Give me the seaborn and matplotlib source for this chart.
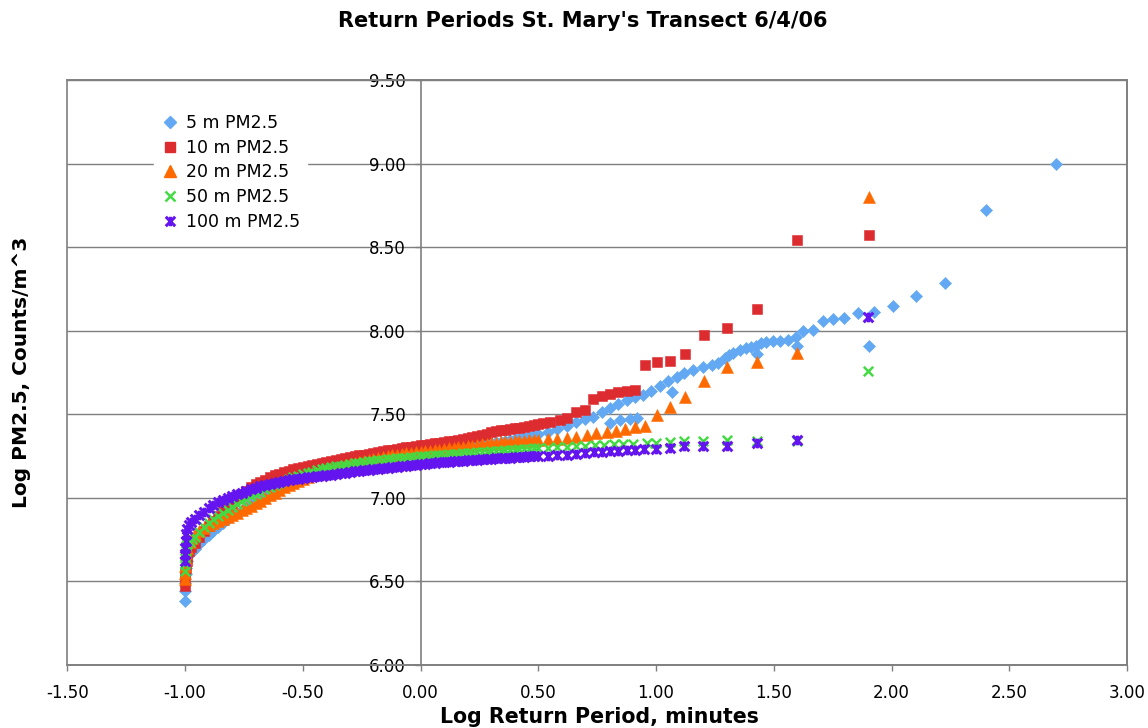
import matplotlib
matplotlib.use("Agg")
import matplotlib.pyplot as plt
from matplotlib.path import Path
from matplotlib.lines import Line2D
from matplotlib.patches import Rectangle
import seaborn as sns
import pandas as pd

sns.set_style("white")
plt.rcParams["font.family"] = ["DejaVu Sans"]
plt.rcParams["text.color"] = "black"
plt.rcParams["axes.labelcolor"] = "black"
plt.rcParams["xtick.color"] = "black"
plt.rcParams["ytick.color"] = "black"

# ---------------- data ----------------
TITLE = "Return Periods St. Mary's Transect 6/4/06"
XLABEL = "Log Return Period, minutes"
YLABEL = "Log PM2.5, Counts/m^3"
SERIES = ["5 m PM2.5", "10 m PM2.5", "20 m PM2.5", "50 m PM2.5", "100 m PM2.5"]
X_TICKS = [-1.5, -1.0, -0.5, 0.0, 0.5, 1.0, 1.5, 2.0, 2.5, 3.0]
Y_TICKS = [6.0, 6.5, 7.0, 7.5, 8.0, 8.5, 9.0, 9.5]

# dense part of every curve (log return period)
X_DENSE = [-0.96, -0.94, -0.92, -0.90, -0.88, -0.86, -0.84, -0.82, -0.80, -0.78,
           -0.76, -0.74, -0.72, -0.70, -0.68, -0.66, -0.64, -0.62, -0.60, -0.58,
           -0.56, -0.54, -0.52, -0.50, -0.48, -0.46, -0.44, -0.42, -0.40, -0.38,
           -0.36, -0.34, -0.32, -0.30, -0.28, -0.26, -0.24, -0.22, -0.20, -0.18,
           -0.16, -0.14, -0.12, -0.10, -0.08, -0.06, -0.04, -0.02, 0.00, 0.02,
           0.04, 0.06, 0.08, 0.10, 0.12, 0.14, 0.16, 0.18, 0.20, 0.22,
           0.24, 0.26, 0.28, 0.30, 0.32, 0.34, 0.36, 0.38, 0.40, 0.42,
           0.44, 0.46, 0.48, 0.50]

# ---- 5 m
X5_LOW = [-1.0, -1.0, -0.999, -0.998, -0.996, -0.993, -0.988, -0.98, -0.97]
Y5_LOW = [6.38, 6.44, 6.49, 6.54, 6.58, 6.62, 6.65, 6.67, 6.68]
Y5_DENSE = [6.690, 6.720, 6.750, 6.775, 6.800, 6.825, 6.848, 6.870, 6.890, 6.910,
            6.928, 6.946, 6.963, 6.980, 6.995, 7.010, 7.025, 7.040, 7.053, 7.066,
            7.078, 7.090, 7.101, 7.112, 7.122, 7.132, 7.141, 7.150, 7.158, 7.166,
            7.174, 7.181, 7.188, 7.195, 7.201, 7.207, 7.213, 7.219, 7.224, 7.229,
            7.234, 7.239, 7.243, 7.247, 7.251, 7.255, 7.259, 7.263, 7.267, 7.271,
            7.275, 7.279, 7.283, 7.287, 7.291, 7.295, 7.299, 7.303, 7.307, 7.311,
            7.315, 7.319, 7.323, 7.327, 7.331, 7.335, 7.340, 7.345, 7.350, 7.356,
            7.362, 7.368, 7.375, 7.382]
X5_HIGH = [0.54, 0.58, 0.62, 0.66, 0.70, 0.733, 0.77, 0.804, 0.84, 0.875,
           0.91, 0.946, 0.98, 1.016, 1.05, 1.087, 1.12, 1.158, 1.20, 1.236,
           1.264, 1.292, 1.31, 1.327, 1.356, 1.384, 1.405, 1.424, 1.445, 1.469,
           1.497, 1.526, 1.561, 1.594, 1.626, 1.665, 1.707, 1.75, 1.80, 1.857,
           1.926, 2.007, 2.103, 2.229, 2.40, 2.70]
Y5_HIGH = [7.39, 7.41, 7.43, 7.45, 7.47, 7.484, 7.51, 7.534, 7.56, 7.584,
           7.60, 7.614, 7.64, 7.668, 7.695, 7.723, 7.745, 7.763, 7.783, 7.795,
           7.804, 7.834, 7.853, 7.867, 7.883, 7.895, 7.90, 7.91, 7.927, 7.93,
           7.935, 7.937, 7.943, 7.959, 7.997, 8.005, 8.057, 8.07, 8.076, 8.105,
           8.113, 8.147, 8.208, 8.283, 8.72, 9.00]
X5_EXTRA = [0.804, 0.846, 0.889, 0.917, 1.066, 1.427, 1.60, 1.904]
Y5_EXTRA = [7.444, 7.464, 7.468, 7.474, 7.634, 7.857, 7.909, 7.909]

# ---- 10 m
X10_LOW = [-1.0, -1.0, -0.999, -0.997, -0.994, -0.99, -0.985, -0.975]
Y10_LOW = [6.47, 6.50, 6.54, 6.58, 6.62, 6.65, 6.68, 6.705]
Y10_DENSE = [6.730, 6.765, 6.800, 6.830, 6.860, 6.890, 6.920, 6.945, 6.970, 6.995,
             7.018, 7.040, 7.060, 7.078, 7.093, 7.107, 7.120, 7.132, 7.142, 7.151,
             7.160, 7.168, 7.175, 7.182, 7.188, 7.194, 7.200, 7.206, 7.212, 7.218,
             7.224, 7.230, 7.236, 7.242, 7.247, 7.252, 7.257, 7.262, 7.267, 7.272,
             7.277, 7.282, 7.287, 7.292, 7.297, 7.301, 7.305, 7.309, 7.313, 7.317,
             7.321, 7.325, 7.329, 7.333, 7.337, 7.341, 7.345, 7.350, 7.356, 7.362,
             7.368, 7.375, 7.382, 7.390, 7.397, 7.403, 7.407, 7.410, 7.414, 7.418,
             7.423, 7.428, 7.434, 7.440]
X10_HIGH = [0.52, 0.55, 0.59, 0.62, 0.662, 0.698, 0.733, 0.769, 0.804, 0.839,
            0.875, 0.91, 0.954, 1.005, 1.059, 1.122, 1.203, 1.302, 1.427, 1.60, 1.904]
Y10_HIGH = [7.446, 7.455, 7.465, 7.478, 7.514, 7.524, 7.588, 7.608, 7.62, 7.63,
            7.638, 7.644, 7.792, 7.81, 7.817, 7.857, 7.973, 8.017, 8.131, 8.542, 8.572]

# ---- 20 m
X20_LOW = [-1.0, -1.0, -0.999, -0.998, -0.995, -0.99, -0.98, -0.97]
Y20_LOW = [6.51, 6.55, 6.59, 6.63, 6.67, 6.70, 6.735, 6.76]
Y20_DENSE = [6.780, 6.800, 6.820, 6.835, 6.850, 6.862, 6.873, 6.885, 6.898, 6.910,
             6.924, 6.938, 6.952, 6.967, 6.982, 6.998, 7.013, 7.030, 7.045, 7.060,
             7.075, 7.088, 7.100, 7.112, 7.123, 7.133, 7.143, 7.152, 7.161, 7.170,
             7.178, 7.186, 7.193, 7.200, 7.207, 7.213, 7.219, 7.225, 7.231, 7.237,
             7.242, 7.247, 7.252, 7.257, 7.261, 7.264, 7.267, 7.270, 7.273, 7.277,
             7.280, 7.284, 7.287, 7.291, 7.294, 7.298, 7.301, 7.305, 7.308, 7.311,
             7.315, 7.318, 7.321, 7.325, 7.328, 7.331, 7.333, 7.335, 7.337, 7.339,
             7.341, 7.343, 7.345, 7.347]
X20_HIGH = [0.54, 0.58, 0.62, 0.662, 0.705, 0.747, 0.79, 0.83, 0.868, 0.91,
            0.952, 1.005, 1.061, 1.122, 1.203, 1.302, 1.427, 1.60, 1.904]
Y20_HIGH = [7.349, 7.352, 7.356, 7.364, 7.374, 7.384, 7.394, 7.40, 7.408, 7.42,
            7.43, 7.494, 7.544, 7.604, 7.698, 7.783, 7.813, 7.863, 8.80]

# ---- 50 m
X50_LOW = [-1.0, -1.0, -0.999, -0.998, -0.995, -0.99, -0.98, -0.97]
Y50_LOW = [6.56, 6.60, 6.64, 6.68, 6.71, 6.72, 6.735, 6.75]
Y50_DENSE = [6.765, 6.795, 6.822, 6.848, 6.870, 6.890, 6.910, 6.928, 6.945, 6.962,
             6.978, 6.993, 7.008, 7.022, 7.036, 7.050, 7.063, 7.076, 7.088, 7.099,
             7.110, 7.120, 7.130, 7.139, 7.147, 7.155, 7.162, 7.169, 7.175, 7.181,
             7.186, 7.191, 7.196, 7.200, 7.204, 7.208, 7.212, 7.216, 7.219, 7.222,
             7.225, 7.228, 7.231, 7.234, 7.237, 7.239, 7.242, 7.244, 7.246, 7.248,
             7.250, 7.252, 7.255, 7.257, 7.259, 7.261, 7.263, 7.265, 7.267, 7.269,
             7.271, 7.273, 7.275, 7.277, 7.279, 7.281, 7.283, 7.285, 7.287, 7.289,
             7.290, 7.292, 7.294, 7.295]
X50_HIGH = [0.54, 0.58, 0.62, 0.66, 0.70, 0.74, 0.78, 0.82, 0.86, 0.90,
            0.96, 1.00, 1.06, 1.12, 1.20, 1.30, 1.43, 1.60, 1.90]
Y50_HIGH = [7.297, 7.30, 7.303, 7.306, 7.309, 7.312, 7.315, 7.318, 7.32, 7.322,
            7.325, 7.328, 7.334, 7.336, 7.338, 7.344, 7.34, 7.34, 7.76]

# ---- 100 m
X100_LOW = [-1.0, -1.0, -0.999, -0.998, -0.996, -0.992, -0.985, -0.975]
Y100_LOW = [6.62, 6.66, 6.70, 6.74, 6.78, 6.81, 6.835, 6.855]
Y100_DENSE = [6.870, 6.895, 6.915, 6.935, 6.955, 6.972, 6.985, 6.997, 7.008, 7.019,
              7.030, 7.040, 7.050, 7.059, 7.067, 7.074, 7.081, 7.088, 7.094, 7.099,
              7.104, 7.108, 7.112, 7.116, 7.120, 7.123, 7.127, 7.130, 7.134, 7.137,
              7.141, 7.145, 7.148, 7.152, 7.156, 7.159, 7.163, 7.166, 7.170, 7.173,
              7.176, 7.179, 7.182, 7.185, 7.188, 7.191, 7.194, 7.197, 7.200, 7.202,
              7.205, 7.207, 7.210, 7.212, 7.214, 7.216, 7.218, 7.220, 7.222, 7.224,
              7.226, 7.228, 7.230, 7.232, 7.234, 7.236, 7.238, 7.239, 7.241, 7.243,
              7.244, 7.246, 7.247, 7.249]
X100_HIGH = [0.54, 0.58, 0.62, 0.66, 0.70, 0.735, 0.77, 0.805, 0.84, 0.875,
             0.91, 0.95, 1.00, 1.06, 1.12, 1.20, 1.30, 1.43, 1.60, 1.90]
Y100_HIGH = [7.251, 7.254, 7.256, 7.26, 7.266, 7.27, 7.274, 7.278, 7.281, 7.284,
             7.287, 7.288, 7.29, 7.296, 7.306, 7.306, 7.306, 7.325, 7.344, 8.08]

# ---------------- assemble ----------------
series_x = {
    SERIES[0]: X5_LOW + X_DENSE + X5_HIGH + X5_EXTRA,
    SERIES[1]: X10_LOW + X_DENSE + X10_HIGH,
    SERIES[2]: X20_LOW + X_DENSE + X20_HIGH,
    SERIES[3]: X50_LOW + X_DENSE + X50_HIGH,
    SERIES[4]: X100_LOW + X_DENSE + X100_HIGH,
}
series_y = {
    SERIES[0]: Y5_LOW + Y5_DENSE + Y5_HIGH + Y5_EXTRA,
    SERIES[1]: Y10_LOW + Y10_DENSE + Y10_HIGH,
    SERIES[2]: Y20_LOW + Y20_DENSE + Y20_HIGH,
    SERIES[3]: Y50_LOW + Y50_DENSE + Y50_HIGH,
    SERIES[4]: Y100_LOW + Y100_DENSE + Y100_HIGH,
}

# Excel-like "star" marker: an x with a vertical bar
star = Path([(-1, -1), (1, 1), (-1, 1), (1, -1), (0, -1), (0, 1)],
            [Path.MOVETO, Path.LINETO, Path.MOVETO, Path.LINETO, Path.MOVETO, Path.LINETO])

COLORS = ["#62A8F2", "#DD2C30", "#FF6A00", "#44DA44", "#6414EE"]
MARKERS = ["D", "s", "^", "x", star]
SIZES = [38, 60, 74, 46, 48]
LWS = [0.4, 0.4, 0.4, 1.8, 2.2]

fig = plt.figure(figsize=(11.48, 7.28), dpi=100)
ax = fig.add_axes([0.0587, 0.0872, 0.923, 0.8029])

for i, name in enumerate(SERIES):
    df = pd.DataFrame({"x": series_x[name], "y": series_y[name]})
    sns.scatterplot(data=df, x="x", y="y", ax=ax, marker=MARKERS[i], s=SIZES[i],
                    color=COLORS[i], edgecolor=COLORS[i], linewidth=LWS[i],
                    zorder=3 + i, legend=False)

ax.set_xlim(-1.5, 3.0)
ax.set_ylim(6.0, 9.5)
ax.set_xticks(X_TICKS)
ax.set_yticks(Y_TICKS)
ax.set_xticklabels([f"{v:.2f}" for v in X_TICKS])
ax.set_yticklabels([f"{v:.2f}" for v in Y_TICKS])
ax.set_xlabel("")
ax.set_ylabel("")

grey = "#7f7f7f"
ax.yaxis.grid(True, color=grey, linewidth=1.0, zorder=1)
ax.xaxis.grid(False)
ax.set_axisbelow(True)

for s in ["top", "right", "bottom"]:
    ax.spines[s].set_color(grey)
    ax.spines[s].set_linewidth(1.2)
ax.spines["left"].set_position(("data", 0))
ax.spines["left"].set_color(grey)
ax.spines["left"].set_linewidth(1.2)
ax.add_patch(Rectangle((0, 0), 1, 1, transform=ax.transAxes, fill=False,
                       edgecolor=grey, linewidth=1.2, clip_on=False, zorder=2))

ax.tick_params(axis="y", direction="out", length=4, width=1.0, color=grey, pad=6.5,
               left=True, labelsize=12, labelcolor="black")
ax.tick_params(axis="x", direction="out", length=4, width=1.0, color=grey, pad=10,
               bottom=True, labelsize=12, labelcolor="black")

handles = []
for i, name in enumerate(SERIES):
    if i == 3:
        h = Line2D([], [], linestyle="none", marker="x", color=COLORS[i],
                   markersize=6.8, markeredgewidth=1.8)
    elif i == 4:
        h = Line2D([], [], linestyle="none", marker=star, color=COLORS[i],
                   markerfacecolor="none", markersize=6.8, markeredgewidth=2.2)
    elif i == 0:
        h = Line2D([], [], linestyle="none", marker="D", color=COLORS[i], markersize=6.0)
    elif i == 1:
        h = Line2D([], [], linestyle="none", marker="s", color=COLORS[i], markersize=7.6)
    else:
        h = Line2D([], [], linestyle="none", marker="^", color=COLORS[i], markersize=8.4)
    handles.append(h)

leg = ax.legend(handles, SERIES, loc="upper left", bbox_to_anchor=(0.0821, 0.9535),
                borderaxespad=0, fontsize=12.5, labelspacing=0.385, handlelength=1.0,
                handletextpad=0.4, borderpad=0.4, frameon=True, framealpha=1,
                facecolor="white", edgecolor="white", fancybox=False)
leg.set_zorder(10)
for t in leg.get_texts():
    t.set_color("black")

fig.text(0.508, 1 - 21 / 728, TITLE, ha="center", va="center",
         fontsize=15, fontweight="bold", color="black")
fig.text(599 / 1148, 1 - 717 / 728, XLABEL, ha="center", va="center",
         fontsize=14.8, fontweight="bold", color="black")
fig.text(22 / 1148, 1 - 372 / 728, YLABEL, ha="center", va="center",
         rotation=90, fontsize=14.5, fontweight="bold", color="black")

fig.savefig("out.png", dpi=100, facecolor="white")
